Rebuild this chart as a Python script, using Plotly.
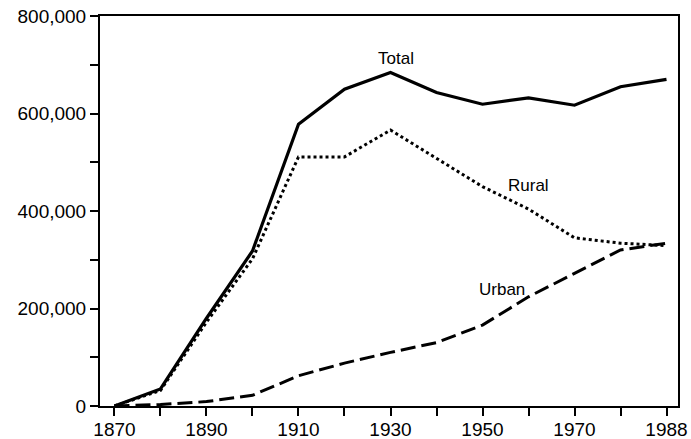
import plotly.graph_objects as go

years = ["1870", "1880", "1890", "1900", "1910", "1920", "1930",
         "1940", "1950", "1960", "1970", "1980", "1988"]
total = [0, 35000, 180000, 318000, 578000, 650000, 684000,
         643000, 619000, 632000, 617000, 655000, 670000]
rural = [0, 32000, 172000, 302000, 511000, 511000, 566000,
         508000, 450000, 404000, 345000, 334000, 329000]
urban = [0, 3000, 9000, 22000, 62000, 88000, 110000,
         130000, 166000, 224000, 272000, 320000, 334000]

x_labels = ["1870", "", "1890", "", "1910", "", "1930", "", "1950", "", "1970", "", "1988"]
y_ticks = [0, 100000, 200000, 300000, 400000, 500000, 600000, 700000, 800000]
y_labels = ["0", "", "200,000", "", "400,000", "", "600,000", "", "800,000"]

series_names = ["Total", "Rural", "Urban"]

font_family = "Liberation Sans, Arial, Helvetica, sans-serif"

fig = go.Figure()
fig.add_trace(go.Scatter(x=years, y=total, mode="lines", name="Total",
                         line=dict(color="black", width=3.2, dash="solid")))
fig.add_trace(go.Scatter(x=years, y=rural, mode="lines", name="Rural",
                         line=dict(color="black", width=3, dash="3px,3px")))
fig.add_trace(go.Scatter(x=years, y=urban, mode="lines", name="Urban",
                         line=dict(color="black", width=3, dash="15px,6px")))

label_pos = [(0.512, 0.890), (0.742, 0.565), (0.6955, 0.300)]
for name, (ax, ay) in zip(series_names, label_pos):
    fig.add_annotation(x=ax, y=ay, xref="paper", yref="paper", text=name,
                       showarrow=False, font=dict(size=17, color="black", family=font_family),
                       xanchor="center", yanchor="middle")

fig.update_layout(
    width=691, height=439,
    margin=dict(l=100, r=13, t=16, b=33, autoexpand=False),
    paper_bgcolor="white", plot_bgcolor="white",
    showlegend=False,
    font=dict(family=font_family, color="black", size=19),
)
fig.update_xaxes(
    type="category", range=[-0.315, 12.25], automargin=False,
    tickmode="array", tickvals=years, ticktext=x_labels,
    ticks="outside", ticklen=8, tickwidth=2, tickcolor="black",
    ticklabelstandoff=-3,
    showline=True, linecolor="black", linewidth=2, mirror=True,
    showgrid=False, zeroline=False,
    tickfont=dict(size=19, color="black", family=font_family),
)
fig.update_yaxes(
    range=[0, 800000], automargin=False,
    tickmode="array", tickvals=y_ticks, ticktext=y_labels,
    ticks="outside", ticklen=8, tickwidth=2, tickcolor="black",
    showline=True, linecolor="black", linewidth=2, mirror=True,
    showgrid=False, zeroline=False,
    tickfont=dict(size=19, color="black", family=font_family),
)

# remove the browser's default 8px body margin so the figure fills the window
fig.write_html("out.html",
               config={"displayModeBar": False},
               post_script="document.body.style.margin='0px';document.body.style.overflow='hidden';")
